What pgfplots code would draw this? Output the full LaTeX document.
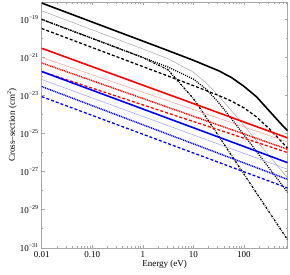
\documentclass[border=0pt]{standalone}
\usepackage{fontspec}
\setmainfont{Liberation Serif}
\usepackage{pgfplots}
\pgfplotsset{compat=1.18}
\begin{document}
\begin{tikzpicture}
\begin{axis}[name=ax,
 xmode=log, ymode=log,
 scale only axis, width=246pt, height=245.5pt,
 xmin=0.01, xmax=730, ymin=1e-31, ymax=7.9e-19,
 xtick={0.01,0.1,1,10,100}, xticklabels={0.01,0.10,1,10,100},
 minor xtick={0.02,0.03,0.04,0.05,0.06,0.07,0.08,0.09,0.2,0.3,0.4,0.5,0.6,0.7,0.8,0.9,2,3,4,5,6,7,8,9,20,30,40,50,60,70,80,90,200,300,400,500,600,700},
 ytick={1e-31,1e-29,1e-27,1e-25,1e-23,1e-21,1e-19},
 yticklabels={10\textsuperscript{−31},10\textsuperscript{−29},10\textsuperscript{−27},10\textsuperscript{−25},10\textsuperscript{−23},10\textsuperscript{−21},10\textsuperscript{−19}},
 minor ytick={1e-30,1e-28,1e-26,1e-24,1e-22,1e-20},
 tick align=inside,
 axis line style={gray!70},
 major tick length=3pt, minor tick length=1.5pt,
 every tick/.style={gray!70},
 xlabel={Energy (eV)}, ylabel={Cross–section (cm\textsuperscript{2})},
 label style={font=\fontsize{9}{10}\selectfont},
 tick label style={font=\fontsize{9}{10}\selectfont, black},
 xticklabel style={yshift=-0.5pt},
 yticklabel style={xshift=0.5pt},
 xlabel style={yshift=4pt},
 ylabel style={yshift=-4pt},
 clip=true,
]
% black thick solid
\addplot[black, line width=1.6pt] coordinates {(0.01,7.24e-19)(0.1,7.24e-20)(1,7.24e-21)(3.162,2.29e-21)(10,7.08e-22)(31.62,2.00e-22)(56.23,8.91e-23)(100,3.02e-23)(177.8,8.51e-24)(316.2,1.55e-24)(562.3,2.88e-25)(730,1.41e-25)};
% gray thin
\addplot[gray!70, line width=0.5pt] coordinates {(0.01,2.82e-19)(0.1,2.82e-20)(1,2.81e-21)(3.162,8.46e-22)(10,1.69e-22)(17.78,4.70e-23)(31.62,9.44e-24)(56.23,1.62e-24)(100,2.63e-25)(177.8,4.20e-26)(316.2,6.67e-27)(562.3,1.06e-27)(730,4.59e-28)};
% black dotted
\addplot[black, line width=1.3pt, dash pattern=on 1pt off 1.2pt] coordinates {(0.01,1e-19)(0.1,1e-20)(1,1e-21)(3.162,3.10e-22)(10,7.31e-23)(17.78,2.20e-23)(31.62,4.18e-24)(56.23,6.21e-25)(100,8.49e-26)(177.8,1.14e-26)(316.2,1.52e-27)(562.3,2.03e-28)(730,8.17e-29)};
% black dash-dot
\addplot[black, line width=1.3pt, dash pattern=on 2pt off 1.2pt on 0.6pt off 1.2pt] coordinates {(0.01,1e-19)(0.1,1e-20)(1,9.86e-22)(3.162,2.22e-22)(10,6.90e-24)(17.78,7.31e-25)(31.62,7.40e-26)(56.23,7.41e-27)(100,7.41e-28)(177.8,7.41e-29)(316.2,7.41e-30)(562.3,7.41e-31)(730,2.61e-31)};
% black dashed
\addplot[black, line width=1.3pt, dash pattern=on 3pt off 2pt] coordinates {(0.01,3.31e-20)(0.1,3.31e-21)(1,3.31e-22)(3.162,1.05e-22)(10,3.30e-23)(17.78,1.83e-23)(31.62,1.0e-23)(56.23,5.13e-24)(100,2.24e-24)(177.8,7.41e-25)(316.2,1.80e-25)(562.3,3.63e-26)(730,1.70e-26)};
% red
\addplot[red, line width=1.6pt] coordinates {(0.01,3.02e-21)(730,5.89e-26)};
\addplot[red!40, line width=0.5pt] coordinates {(0.01,1.0e-21)(730,3.63e-26)};
\addplot[red, line width=1.5pt, dash pattern=on 1pt off 0.8pt] coordinates {(0.01,5.13e-22)(730,1.48e-26)};
\addplot[red, line width=1.3pt, dash pattern=on 3pt off 2pt] coordinates {(0.01,1.82e-22)(730,1.0e-26)};
% blue
\addplot[blue, line width=1.6pt] coordinates {(0.01,1.82e-22)(730,2.95e-27)};
\addplot[blue!40, line width=0.5pt] coordinates {(0.01,6.92e-23)(730,1.32e-27)};
\addplot[blue, line width=1.5pt, dash pattern=on 1pt off 0.8pt] coordinates {(0.01,2.95e-23)(730,3.89e-28)};
\addplot[blue, line width=1.3pt, dash pattern=on 3pt off 2pt] coordinates {(0.01,8.71e-24)(730,1.38e-28)};
\end{axis}
\pgfresetboundingbox
\path ([shift={(-41.7pt,-27.3pt)}]ax.south west) rectangle ([shift={(2.4pt,2.3pt)}]ax.north east);
\end{tikzpicture}
\end{document}
